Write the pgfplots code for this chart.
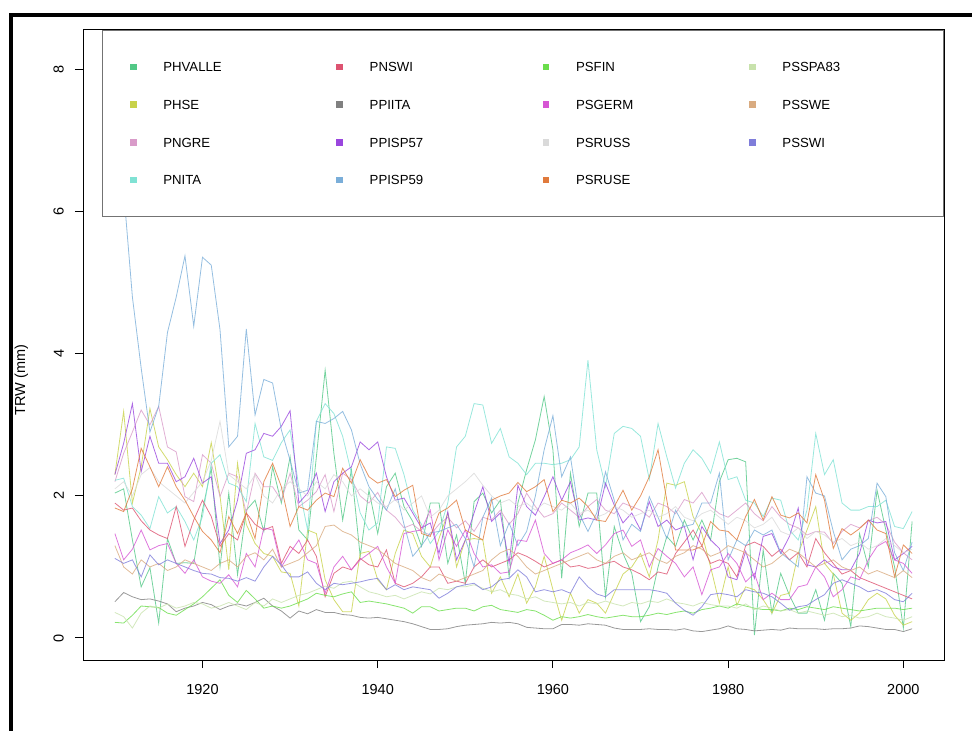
\documentclass[border=0pt]{standalone}
\usepackage{fontspec}
\setmainfont{Liberation Sans}
\usepackage{pgfplots}
\usepackage{pgfplotstable}
\pgfplotsset{compat=1.18}

\definecolor{cPHVALLE}{HTML}{52C886}
\definecolor{cPHSE}{HTML}{C8D24A}
\definecolor{cPNGRE}{HTML}{D99BC9}
\definecolor{cPNITA}{HTML}{80E2D4}
\definecolor{cPNSWI}{HTML}{DD5371}
\definecolor{cPPIITA}{HTML}{808080}
\definecolor{cPPISP57}{HTML}{9A46DE}
\definecolor{cPPISP59}{HTML}{7AAED9}
\definecolor{cPSFIN}{HTML}{6ADD4B}
\definecolor{cPSGERM}{HTML}{D656D4}
\definecolor{cPSRUSS}{HTML}{DADADA}
\definecolor{cPSRUSE}{HTML}{E07A3C}
\definecolor{cPSSPA83}{HTML}{C8E2AC}
\definecolor{cPSSWE}{HTML}{D9AB80}
\definecolor{cPSSWI}{HTML}{7F7DDA}

% ring widths (mm), one site per row, years 1910--2001
\pgfplotstableread[header=false]{
PHVALLE 2.04 2.10 1.38 0.72 0.99 0.21 1.40 1.05 1.06 1.05 1.80 2.39 1.00 2.04 0.89 1.80 1.94 1.50 2.41 1.90 2.55 1.52 1.38 2.55 3.77 2.60 1.66 2.37 1.15 2.08 1.47 2.13 2.32 1.85 1.64 1.29 1.90 1.90 1.05 1.45 0.77 1.92 2.04 1.76 1.94 0.86 1.90 2.37 2.79 3.40 2.65 0.84 2.32 1.57 2.04 2.04 0.58 1.57 1.19 0.91 0.23 0.44 1.00 1.43 1.29 1.66 1.38 1.66 1.38 2.20 2.51 2.53 2.48 0.04 1.24 0.35 0.91 0.60 0.35 0.35 0.68 0.25 0.91 0.77 0.16 1.47 1.00 2.08 1.52 1.00 0.14 1.64
PHSE 2.30 3.19 1.90 2.41 3.23 2.69 2.51 2.30 2.13 2.32 2.13 2.75 2.00 0.96 2.46 1.60 1.33 1.19 1.15 0.93 0.91 0.45 1.52 1.47 0.82 0.54 0.37 0.37 1.19 1.22 0.82 0.68 1.19 1.52 1.47 1.15 1.00 1.40 1.76 1.00 1.38 1.40 1.38 0.63 0.86 0.58 0.90 0.49 0.72 1.15 0.68 0.25 0.63 0.35 0.54 0.49 0.35 0.63 0.90 1.00 1.19 0.86 1.38 2.18 2.15 2.20 1.71 1.47 1.00 0.49 1.00 0.46 0.72 0.68 0.54 0.35 0.60 0.63 1.19 1.52 1.85 1.05 0.90 0.35 0.25 0.35 0.54 0.63 0.55 0.32 0.18 0.23
PNGRE 2.20 2.60 2.90 3.21 3.00 3.26 2.69 2.62 1.99 1.92 2.58 2.46 1.99 2.32 2.27 1.76 2.32 2.13 2.13 1.94 2.32 1.85 1.94 2.06 2.30 1.78 2.32 2.23 2.00 1.90 2.05 1.80 1.70 1.55 1.60 1.50 1.45 1.60 1.70 1.55 1.65 1.50 1.70 1.66 1.80 1.60 1.75 2.04 1.85 1.70 1.75 1.90 1.80 1.70 1.85 1.95 1.80 1.75 1.90 1.85 1.80 1.70 1.90 1.85 1.75 1.95 1.90 2.05 1.85 1.75 1.70 1.80 1.90 1.75 1.65 1.85 1.70 1.60 1.55 1.45 1.50 1.49 1.33 1.50 1.60 1.55 1.65 1.70 1.60 1.35 1.20 1.10
PNITA 2.22 2.25 1.85 1.73 1.54 1.99 1.76 1.85 1.64 1.38 1.71 2.46 2.58 2.18 2.13 1.92 3.02 2.55 2.50 2.75 2.93 2.13 1.52 3.05 3.30 3.16 2.84 2.32 1.76 1.52 1.62 2.69 2.67 2.30 1.80 1.60 1.33 1.50 1.90 2.69 2.84 3.30 3.28 2.74 2.95 2.55 2.46 2.30 2.46 2.46 2.44 2.46 2.51 2.69 3.91 2.65 2.13 2.88 2.98 2.95 2.84 2.23 3.02 2.55 2.11 2.46 2.65 2.53 2.32 2.76 2.23 2.27 1.94 1.90 1.71 1.97 1.94 1.52 1.38 1.80 2.88 2.30 2.51 1.90 1.80 1.80 1.85 1.85 1.94 1.57 1.54 1.78
PNSWI 1.90 1.80 1.83 1.65 1.52 1.45 1.40 1.85 1.29 1.66 1.94 1.71 1.29 1.47 1.38 1.76 1.60 1.52 1.57 1.05 1.29 1.19 1.38 1.15 0.58 0.91 1.00 0.96 1.12 1.03 1.00 1.24 0.77 0.72 0.77 0.86 1.00 1.00 0.77 0.80 0.77 1.00 1.10 1.00 1.05 1.10 1.20 1.15 1.08 1.00 1.05 1.10 1.00 1.02 0.98 1.00 1.05 1.08 1.00 0.96 0.90 0.82 0.93 0.90 1.19 1.35 1.52 1.30 1.05 1.10 1.05 0.86 1.30 1.35 1.29 1.15 1.25 1.10 1.20 1.00 1.40 1.20 1.05 0.90 0.95 0.85 0.80 0.75 0.70 0.65 0.60 0.55
PPIITA 0.51 0.64 0.58 0.54 0.55 0.52 0.48 0.37 0.42 0.45 0.50 0.47 0.40 0.45 0.48 0.45 0.50 0.56 0.45 0.38 0.28 0.38 0.34 0.40 0.36 0.36 0.33 0.32 0.29 0.28 0.29 0.27 0.25 0.23 0.20 0.16 0.12 0.12 0.13 0.16 0.18 0.19 0.20 0.22 0.21 0.22 0.20 0.15 0.14 0.13 0.13 0.19 0.19 0.18 0.20 0.19 0.18 0.14 0.12 0.12 0.12 0.13 0.12 0.12 0.11 0.13 0.10 0.09 0.11 0.13 0.17 0.13 0.12 0.10 0.11 0.12 0.11 0.14 0.13 0.13 0.13 0.12 0.13 0.13 0.14 0.17 0.16 0.14 0.12 0.12 0.09 0.13
PPISP57 2.30 2.74 3.30 2.34 2.84 2.46 2.46 2.20 2.27 2.53 2.18 2.27 1.33 1.52 1.94 2.60 2.65 2.88 2.84 2.98 3.20 1.90 2.04 2.32 1.78 2.20 2.32 2.41 2.76 2.65 2.76 2.27 1.94 1.97 1.76 1.55 1.62 1.19 1.78 1.10 1.38 1.76 2.13 1.64 1.76 1.05 2.15 1.85 1.73 1.99 2.27 1.94 2.20 1.66 1.69 1.66 2.18 1.87 1.62 1.76 1.52 1.92 1.57 1.66 1.52 1.57 1.10 1.57 1.38 1.26 0.86 0.82 1.22 0.84 1.43 1.47 1.19 1.43 1.83 1.03 1.00 1.10 1.00 0.96 0.96 1.19 1.66 1.62 1.64 1.10 1.19 1.29
PPISP59 8.20 6.30 4.80 3.80 2.90 3.26 4.30 4.80 5.38 4.39 5.36 5.25 4.34 2.69 2.84 4.35 3.14 3.64 3.59 2.93 2.50 2.04 2.08 3.05 3.02 3.09 3.19 2.93 2.45 2.13 1.95 1.80 2.10 1.60 1.15 1.30 1.48 1.50 1.55 1.60 1.40 1.00 1.70 1.97 1.30 1.62 1.30 1.50 2.00 2.65 3.13 2.27 2.55 1.75 1.50 1.76 2.34 1.94 1.38 1.60 1.50 1.99 1.70 1.40 1.80 1.57 1.60 1.90 1.90 2.32 1.10 1.38 1.30 1.52 1.45 1.52 1.20 1.10 1.00 2.27 2.04 2.00 1.50 1.10 1.25 1.30 1.40 2.18 1.99 1.20 0.95 1.35
PSFIN 0.22 0.21 0.32 0.45 0.44 0.43 0.35 0.32 0.40 0.48 0.58 0.70 0.82 0.60 0.50 0.67 0.55 0.42 0.45 0.42 0.45 0.50 0.55 0.63 0.60 0.58 0.62 0.65 0.50 0.52 0.50 0.48 0.45 0.42 0.35 0.44 0.44 0.38 0.40 0.42 0.42 0.38 0.44 0.46 0.40 0.38 0.36 0.40 0.38 0.32 0.25 0.30 0.28 0.30 0.33 0.30 0.28 0.30 0.32 0.30 0.30 0.32 0.35 0.33 0.36 0.38 0.35 0.40 0.42 0.45 0.42 0.48 0.45 0.42 0.40 0.40 0.38 0.42 0.40 0.44 0.42 0.40 0.44 0.42 0.40 0.38 0.40 0.42 0.42 0.42 0.40 0.42
PSGERM 1.47 1.10 1.25 1.52 1.24 1.30 1.33 1.05 0.91 1.10 0.86 0.80 0.77 0.89 0.72 1.19 1.00 1.55 1.52 1.00 1.20 1.38 1.10 1.05 0.63 1.00 1.15 0.96 1.10 1.19 1.29 1.00 0.77 1.47 1.50 1.52 1.80 1.10 1.52 1.29 1.52 1.19 1.00 1.03 0.91 0.93 1.38 1.36 1.66 1.19 1.05 1.10 1.20 1.25 1.31 1.19 1.31 1.47 1.52 1.29 1.38 1.00 1.26 1.15 1.05 0.86 1.00 0.61 0.96 1.00 1.19 1.05 0.79 0.91 0.54 0.63 0.54 0.54 0.72 0.75 1.00 0.86 0.58 0.68 0.86 0.82 1.10 1.29 1.36 1.10 1.05 0.91
PSRUSS 2.10 2.20 2.00 2.30 2.40 2.20 2.10 2.00 1.90 2.05 2.20 2.50 3.05 2.30 2.20 2.10 2.30 2.00 1.90 2.10 2.20 2.10 2.00 2.20 2.10 2.30 2.20 2.00 2.10 2.00 1.90 1.85 1.95 1.80 1.90 2.00 1.70 1.80 2.00 2.10 2.20 2.32 2.15 2.00 1.90 1.95 1.85 1.90 1.80 1.90 1.85 1.80 1.90 1.75 1.80 1.70 1.75 1.85 1.80 1.70 1.75 1.80 1.70 1.75 1.85 1.70 1.65 1.75 1.80 1.70 1.60 1.70 1.65 1.55 1.60 1.70 1.50 1.45 1.55 1.40 1.50 1.45 1.35 1.40 1.30 1.35 1.25 1.30 1.40 1.30 1.20 1.25
PSRUSE 1.83 1.78 2.10 2.67 2.41 2.13 2.41 2.13 1.94 1.71 1.50 1.38 1.20 1.71 1.47 1.76 1.40 2.20 2.46 2.13 1.57 1.85 1.80 1.94 2.04 1.99 2.39 2.18 2.51 2.27 2.18 2.23 1.99 2.08 2.15 1.47 1.43 1.76 1.83 1.94 1.52 1.45 1.38 1.94 2.00 2.04 2.19 2.06 2.13 2.23 1.78 1.94 1.90 1.97 1.85 1.66 1.64 1.85 2.08 1.80 2.00 2.27 2.65 1.94 1.24 1.24 1.24 1.29 1.64 1.52 1.50 1.38 1.71 1.95 1.66 1.99 1.73 1.69 1.76 1.62 2.30 1.94 1.26 1.54 1.45 1.54 1.66 1.52 1.47 0.86 1.31 1.19
PSSPA83 0.36 0.30 0.14 0.35 0.45 0.42 0.48 0.42 0.45 0.50 0.48 0.42 0.45 0.50 0.45 0.40 0.50 0.45 0.55 0.50 0.55 0.60 0.63 0.68 0.73 0.70 0.78 0.80 0.72 0.65 0.62 0.58 0.60 0.55 0.60 0.65 0.62 0.70 0.68 0.72 0.72 0.75 0.70 0.65 0.68 0.62 0.60 0.55 0.58 0.52 0.50 0.48 0.50 0.45 0.50 0.48 0.52 0.48 0.45 0.50 0.48 0.52 0.50 0.55 0.50 0.48 0.45 0.50 0.47 0.45 0.45 0.42 0.48 0.40 0.45 0.42 0.38 0.40 0.35 0.38 0.35 0.32 0.35 0.30 0.32 0.28 0.30 0.35 0.30 0.28 0.25 0.30
PSSWE 1.30 1.00 0.90 1.10 1.00 1.05 0.95 1.00 1.10 1.05 1.00 0.95 1.05 1.10 1.00 1.15 1.20 1.10 1.25 1.00 1.05 1.10 1.20 1.30 1.57 1.59 1.50 1.45 1.35 1.30 1.25 1.15 1.05 1.00 0.95 0.85 0.80 0.90 0.85 0.80 0.85 0.90 0.95 1.10 1.20 1.25 1.15 1.00 0.90 0.95 1.00 1.05 1.10 1.15 1.20 1.10 1.05 1.15 1.20 1.10 1.15 1.20 1.10 1.05 1.15 1.20 1.30 1.25 1.15 1.20 1.30 1.25 1.20 1.10 1.00 1.05 1.15 1.25 1.20 1.10 1.00 1.05 1.10 1.00 0.95 1.00 0.90 0.95 0.90 0.85 0.95 0.85
PSSWI 1.12 1.05 1.10 0.86 1.17 1.03 1.10 1.05 1.00 0.95 0.91 0.90 0.85 0.84 0.80 0.85 0.80 1.00 1.15 1.03 0.86 0.86 0.93 0.77 0.68 0.77 0.75 0.77 0.79 0.82 0.84 0.68 0.75 0.68 0.72 0.70 0.68 0.56 0.63 0.72 0.75 0.77 0.68 0.72 0.82 0.84 0.96 0.86 0.65 0.68 0.65 0.68 0.63 0.86 0.72 0.62 0.58 0.68 0.68 0.68 0.68 0.68 0.66 0.63 0.49 0.39 0.32 0.44 0.61 0.63 0.61 0.58 0.68 0.65 0.63 0.58 0.49 0.39 0.44 0.46 0.54 0.61 0.77 0.82 0.77 0.72 0.65 0.68 0.63 0.54 0.51 0.63
}\trwraw
\pgfplotstabletranspose[colnames from=0, input colnames to=idx]\trw\trwraw

% square legend key in a given colour
\newcommand{\legsq}[2]{%
  \addlegendimage{legend image code/.code={\fill[#1] (0bp,-2.8bp) rectangle (5.6bp,2.8bp);}}%
  \addlegendentry{#2}}

\begin{document}
\begin{tikzpicture}
\useasboundingbox (0,0) rectangle (972bp,731bp);
\draw[line width=4bp, line join=miter] (10.5bp,0bp) -- (10.5bp,716.3bp) -- (972bp,716.3bp);
\begin{axis}[
  at={(83bp,71bp)}, anchor=south west,
  scale only axis, width=861bp, height=630bp,
  xmin=1906.36, xmax=2004.64, ymin=-0.31, ymax=8.56,
  xtick={1920,1940,1960,1980,2000},
  xticklabels={1920,1940,1960,1980,2000},
  ytick={0,2,4,6,8}, yticklabels={0,2,4,6,8},
  xtick pos=left, ytick pos=left,
  tick align=outside, major tick length=8bp,
  axis line style={black, line width=1bp},
  tick style={black, line width=1bp},
  tick label style={font=\fontsize{14.5bp}{16bp}\selectfont, inner sep=0pt},
  xticklabel style={anchor=north, yshift=-16bp},
  yticklabel style={rotate=90, anchor=south, yshift=11bp},
  ylabel={TRW (mm)},
  ylabel style={at={(axis description cs:-0.0715,0.444)}, anchor=center,
                font=\fontsize{14.5bp}{16bp}\selectfont},
  legend columns=4,
  legend cell align=left,
  legend style={at={(1,1)}, anchor=north east,
    draw=black!55, line width=1bp, fill=white,
    inner xsep=27.2bp, inner ysep=31.75bp, row sep=28.2bp,
    font=\fontsize{13.2bp}{15bp}\selectfont,
    nodes={text width=133.8bp, align=left, anchor=west, inner sep=0pt,
           text height=9.5bp, text depth=0pt},
    /tikz/every odd column/.append style={column sep=26.7bp},
    /tikz/every even column/.append style={column sep=39.3bp}},
]
\pgfplotsinvokeforeach{PHVALLE,PHSE,PNGRE,PNITA,PNSWI,PPIITA,PPISP57,PPISP59,PSFIN,PSGERM,PSRUSS,PSRUSE,PSSPA83,PSSWE,PSSWI}{
  \addplot[forget plot, color=c#1, line width=0.8bp, opacity=0.8] table[x expr=\thisrow{idx}+1909, y=#1] {\trw};
}
\legsq{cPHVALLE}{PHVALLE}\legsq{cPNSWI}{PNSWI}\legsq{cPSFIN}{PSFIN}\legsq{cPSSPA83}{PSSPA83}
\legsq{cPHSE}{PHSE}\legsq{cPPIITA}{PPIITA}\legsq{cPSGERM}{PSGERM}\legsq{cPSSWE}{PSSWE}
\legsq{cPNGRE}{PNGRE}\legsq{cPPISP57}{PPISP57}\legsq{cPSRUSS}{PSRUSS}\legsq{cPSSWI}{PSSWI}
\legsq{cPNITA}{PNITA}\legsq{cPPISP59}{PPISP59}\legsq{cPSRUSE}{PSRUSE}
\addlegendimage{empty legend}\addlegendentry{}
\end{axis}
\end{tikzpicture}
\end{document}
